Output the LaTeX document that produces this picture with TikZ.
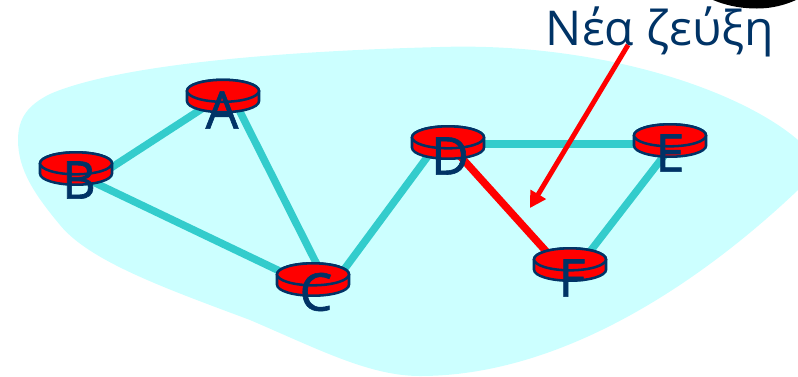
\documentclass[tikz,border=0pt]{standalone}
\usepackage{fontspec}
\setmainfont{Open Sans}
\newfontfamily\lblfont[FakeBold=1.2]{Open Sans}
\usetikzlibrary{calc,backgrounds,arrows.meta}
\definecolor{navy}{HTML}{003366}
\definecolor{teal2}{HTML}{33CCCC}
\definecolor{pale}{HTML}{CCFFFF}
\tikzset{
  routerbox/.style={minimum width=55.5pt,minimum height=25pt,inner sep=0pt,outer sep=0pt},
  routerline/.style={draw=navy,line width=1.9pt,fill=red},
  rlabel/.style={text=navy,font=\fontsize{39}{39}\lblfont,inner sep=0pt},
  linkline/.style={teal2,line width=5.6pt},
  newlink/.style={red,line width=5.6pt},
}
\newcommand{\routerat}[3]{%
  \node[routerbox] (#1) at (#2,#3) {};
  \begin{scope}[shift={(#1.center)}]
    \draw[routerline] (-27pt,3.9pt) -- (-27pt,-3.9pt)
      arc[start angle=180,end angle=360,x radius=27pt,y radius=8.25pt]
      -- (27pt,3.9pt)
      arc[start angle=0,end angle=180,x radius=27pt,y radius=8.25pt] -- cycle;
    \draw[routerline] (0pt,3.9pt) ellipse[x radius=27pt,y radius=8.25pt];
  \end{scope}}
\begin{document}
\begin{tikzpicture}[x=0.75pt,y=-0.75pt]
\useasboundingbox (0,0) rectangle (798,376);
\begin{pgfonlayer}{background}
\fill[pale] (18,140) .. controls (18,118) and (28,105) .. (50,94)
  .. controls (110,68) and (250,52) .. (440,47)
  .. controls (600,42) and (740,90) .. (798,140)
  -- (798,190)
  .. controls (735,250) and (585,376) .. (420,376)
  .. controls (370,376) and (320,350) .. (250,320)
  .. controls (170,290) and (90,262) .. (60,225)
  .. controls (35,195) and (18,170) .. (18,140) -- cycle;
\end{pgfonlayer}
\fill[black] (713,0) .. controls (730,7) and (745,8.5) .. (757,8.5) .. controls (772,8.5) and (785,5) .. (796,0) -- cycle;
\routerat{A}{223}{96}
\routerat{B}{76}{168.5}
\routerat{C}{313}{279.5}
\routerat{D}{448}{142.5}
\routerat{E}{670}{140.5}
\routerat{F}{570}{264.5}
\begin{pgfonlayer}{background}
\draw[linkline] ($(A.center)+(-6,3)$) -- ($(B.center)+(17,11)$);
\draw[linkline] ($(A.center)+(9,0)$) -- ($(C.center)+(8,-7)$);
\draw[linkline] ($(B.center)+(12,11)$) -- ($(C.center)+(-24,-4)$);
\draw[linkline] ($(C.center)+(20,5)$) -- ($(D.center)+(-10,0)$);
\draw[linkline] ($(D.center)+(20,1.5)$) -- ($(E.center)+(-20,3.5)$);
\draw[linkline] ($(E.center)+(-2,10)$) -- ($(F.center)+(10,0)$);
\draw[newlink] ($(D.center)+(8,9)$) -- ($(F.center)+(-12,0)$);
\end{pgfonlayer}
\node[rlabel] (la) at (222,110) {A};
\node[rlabel] (lb) at (79,180) {B};
\node[rlabel] (lc) at (316,292) {C};
\node[rlabel] (ld) at (450,156) {D};
\node[rlabel] (le) at (670,153) {E};
\node[rlabel] (lf) at (572,278) {F};
\node[text=navy,font=\fontsize{36}{36}\selectfont,inner sep=0pt,anchor=base] (title) at (660,45) {Νέα ζεύξη};
\coordinate (tip) at (530,208);
\coordinate (tail) at (628,45);
\draw[red,line width=3.7pt,-{Triangle[length=12pt,width=13pt]}] (tail) -- (tip);
\end{tikzpicture}
\end{document}
